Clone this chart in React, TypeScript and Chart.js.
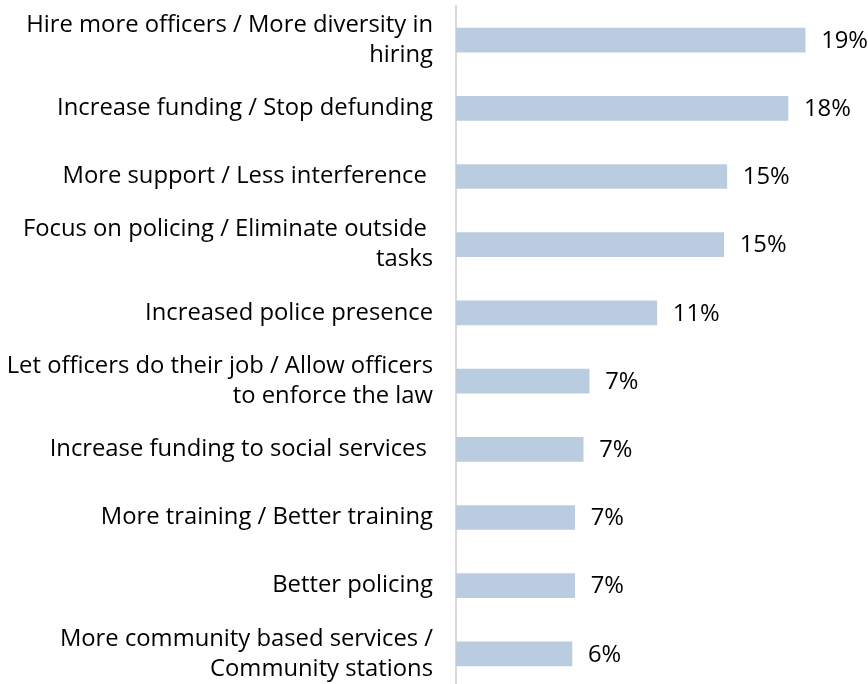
import React, { useEffect, useRef } from "react";
import { Chart, registerables } from "chart.js";

Chart.register(...registerables);

const categories: (string | string[])[] = [
  ["Hire more officers / More diversity in", "hiring"],
  "Increase funding / Stop defunding",
  "More support / Less interference ",
  ["Focus on policing / Eliminate outside ", "tasks"],
  "Increased police presence",
  ["Let officers do their job / Allow officers", "to enforce the law"],
  "Increase funding to social services ",
  "More training / Better training",
  "Better policing",
  ["More community based services /", "Community stations"],
];

const values: number[] = [19.3, 18.35, 14.97, 14.8, 11.1, 7.36, 7.03, 6.56, 6.56, 6.41];

const valueLabels: string[] = ["19%", "18%", "15%", "15%", "11%", "7%", "7%", "7%", "7%", "6%"];

const FONT = "'Open Sans'";
const FONT_SIZE = 23.8;

const valueLabelPlugin = {
  id: "valueLabels",
  afterDatasetsDraw(chart: any) {
    const ctx = chart.ctx;
    const meta = chart.getDatasetMeta(0);
    ctx.save();
    ctx.font = `${FONT_SIZE}px ${FONT}`;
    ctx.fillStyle = "#000000";
    ctx.textAlign = "left";
    ctx.textBaseline = "middle";
    meta.data.forEach((bar: any, i: number) => {
      ctx.fillText(valueLabels[i], bar.x + 16, bar.y + 1);
    });
    ctx.restore();
  },
};

export default function App() {
  const canvasRef = useRef<HTMLCanvasElement | null>(null);

  useEffect(() => {
    document.body.style.overflow = "hidden";
    const chart = new Chart(canvasRef.current as HTMLCanvasElement, {
      type: "bar",
      data: {
        labels: categories,
        datasets: [
          {
            data: values,
            backgroundColor: "#BACDE0",
            barThickness: 24,
          },
        ],
      },
      options: {
        indexAxis: "y",
        animation: false,
        responsive: false,
        maintainAspectRatio: false,
        layout: { padding: { top: 6, right: 14, bottom: 0, left: 0 } },
        plugins: {
          legend: { display: false },
          tooltip: { enabled: false },
        },
        scales: {
          x: {
            display: false,
            min: 0,
            max: 22,
          },
          y: {
            afterFit: (scale: any) => {
              scale.width = 456;
              scale.paddingTop = 0;
              scale.paddingBottom = 0;
            },
            grid: { display: false, drawTicks: false },
            border: { display: true, color: "#D9D9D9", width: 2 },
            ticks: {
              padding: 23,
              color: "#000000",
              font: { family: FONT, size: FONT_SIZE, lineHeight: 1.26 },
            },
          },
        },
      },
      plugins: [valueLabelPlugin],
    });
    return () => chart.destroy();
  }, []);

  return (
    <div style={{ position: "fixed", left: 0, top: 0, width: 868, height: 688 }}>
      <canvas ref={canvasRef} width={868} height={688} style={{ width: 868, height: 688 }} />
    </div>
  );
}
